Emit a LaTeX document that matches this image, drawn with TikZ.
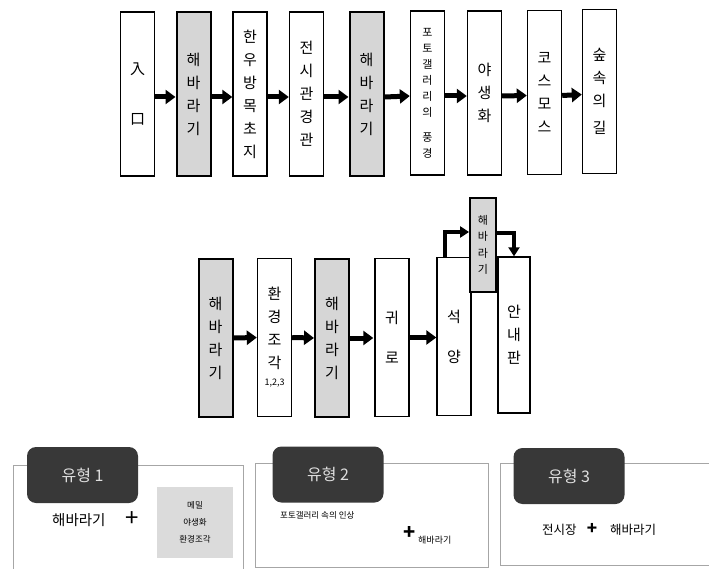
\documentclass[tikz,border=0pt]{standalone}
\usepackage{fontspec}
\setmainfont{Noto Sans CJK KR}
\usetikzlibrary{arrows.meta}
\begin{document}
\begin{tikzpicture}[x=1pt,y=-1pt,
  box/.style={draw=black, line width=1.4pt, fill=white, minimum width=34pt, inner sep=0pt, align=center, font=\fontsize{15}{23}\selectfont},
  sunbox/.style={box, fill=gray!32, line width=2pt},
  toprow/.style={minimum height=164pt},
  midrow/.style={minimum height=158pt},
  arr/.style={line width=5pt, -{Triangle[length=10pt,width=14pt]}},
  thinarr/.style={line width=3.5pt, -{Triangle[length=9pt,width=11pt]}},
  badge/.style={fill=black!78, rounded corners=9pt, minimum width=111pt, minimum height=56pt, text=gray!25, font=\fontsize{16}{18}\selectfont, inner sep=0pt},
  panel/.style={draw=gray!70, line width=0.8pt},
  ptext/.style={inner sep=0pt, anchor=west},
]
\useasboundingbox (0,0) rectangle (709,569);

% top row
\node[box, toprow] (t1) at (137.5,94) {入\\[27pt]口};
\node[sunbox, toprow] (t2) at (193.5,94) {해\\바\\라\\기};
\node[box, toprow] (t3) at (250,94) {한\\우\\방\\목\\초\\지};
\node[box, toprow] (t4) at (306.5,94) {전\\시\\관\\경\\관};
\node[sunbox, toprow] (t5) at (366.5,94) {해\\바\\라\\기};
\node[box, toprow, font=\fontsize{11}{16}\selectfont] (t6) at (427.5,93) {포\\토\\갤\\러\\리\\의\\[9pt]풍\\경};
\node[box, toprow] (t7) at (484.5,93) {야\\생\\화};
\node[box, toprow] (t8) at (544.5,92.5) {코\\스\\모\\스};
\node[box, toprow] (t9) at (599.5,91.5) {숲\\속\\의\\[4pt]길};

\foreach \a/\b in {t1/t2,t2/t3,t3/t4,t4/t5,t5/t6,t6/t7,t7/t8,t8/t9}
  \draw[arr] ([yshift=-3pt]\a.east) -- ([yshift=-3pt]\b.west);

% middle row
\node[sunbox, midrow] (m1) at (215.5,338) {해\\바\\라\\기};
\node[box, midrow] (m2) at (274.5,337.5) {환\\경\\조\\각\\[-6pt]{\fontsize{9}{10}\selectfont 1,2,3}};
\node[sunbox, midrow] (m3) at (332,338) {해\\바\\라\\기};
\node[box, midrow] (m4) at (392,337.5) {귀\\[17pt]로};
\node[box, midrow] (m5) at (454,336.5) {석\\[17pt]양};
\node[sunbox, minimum width=26pt, minimum height=94pt, font=\fontsize{11}{16.5}\selectfont, line width=1.8pt] (m6) at (483,245) {해\\바\\라\\기};
\node[box, minimum width=32pt, minimum height=156pt] (m7) at (514,335) {안\\내\\판};

\draw[arr] (m1.east) -- (m2.west);
\draw[arr] (m2.east) -- (m3.west);
\draw[arr] (m3.east) -- ([xshift=-1pt]m3.east -| m4.west);
\draw[arr] (m4.east) -- (m4.east -| m5.west);
\draw[thinarr] ([xshift=-9pt]m5.north) |- ([yshift=13pt]m6.west);
\draw[thinarr] ([yshift=12pt]m6.east) -| (m7.north);

% bottom panels
\draw[panel] (13,569) -- (13,465) -- (243,465) -- (243,569);
\draw[panel] (255,463) rectangle (488,567);
\draw[panel] (709,463) -- (500,463) -- (500,565) -- (709,565);

\node[badge] (g1) at (82.5,475) {유형 1};
\node[badge] (g2) at (328,474.5) {유형 2};
\node[badge] (g3) at (569,476) {유형 3};

\node[ptext, font=\fontsize{14.5}{16}\selectfont] (p1a) at (52,520) {해바라기};
\node[inner sep=0pt, font=\fontsize{24}{24}\selectfont] (p1plus) at (132,519) {+};
\node[fill=gray!28, minimum width=76pt, minimum height=71pt, inner sep=0pt, align=center, font=\fontsize{8.5}{17}\selectfont] (p1box) at (195,522.5) {메밀\\야생화\\환경조각};

\node[ptext, font=\fontsize{8.5}{10}\selectfont] (p2a) at (280,515) {포토갤러리 속의 인상};
\node[inner sep=0pt, font=\bfseries\fontsize{20}{20}\selectfont] (p2plus) at (410,533) {+};
\node[ptext, font=\fontsize{9}{10}\selectfont] (p2b) at (418,540) {해바라기};

\node[ptext, font=\fontsize{12.5}{14}\selectfont] (p3a) at (542,530) {전시장};
\node[inner sep=0pt, font=\bfseries\fontsize{17}{17}\selectfont] (p3plus) at (592,529) {+};
\node[ptext, font=\fontsize{12.5}{14}\selectfont] (p3b) at (610,530) {해바라기};
\end{tikzpicture}
\end{document}
